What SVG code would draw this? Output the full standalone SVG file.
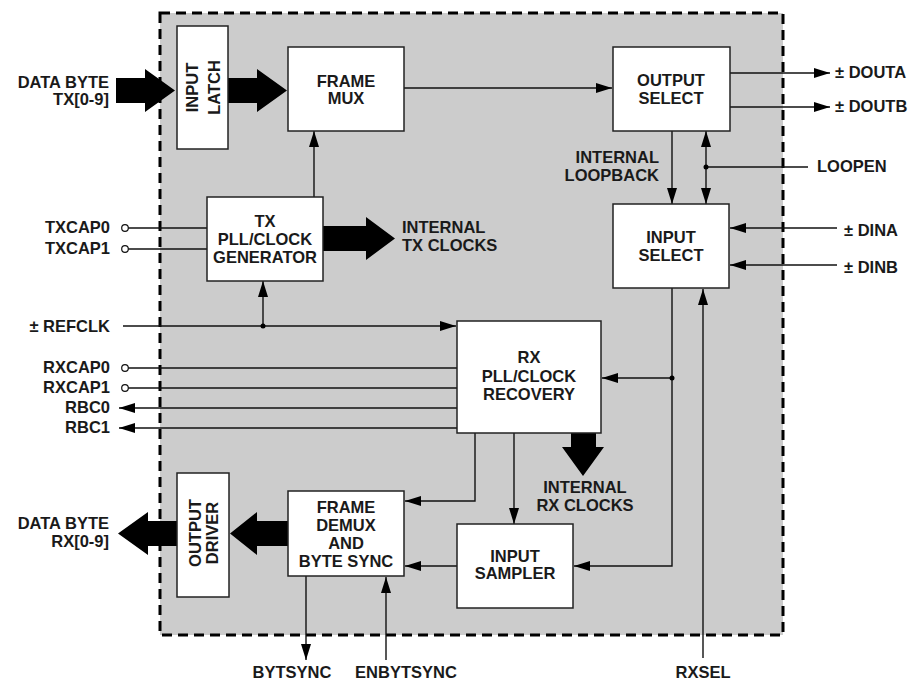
<svg xmlns="http://www.w3.org/2000/svg" width="923" height="683" viewBox="0 0 923 683">
<style>
text{font-family:"Liberation Sans",Arial,sans-serif;font-weight:bold;font-size:16.5px;fill:#1a1a1a}
.c{text-anchor:middle}
.r{text-anchor:end}
.box{fill:#fff;stroke:#222;stroke-width:1.5}
.ln{fill:none;stroke:#111;stroke-width:1.4}
.big{fill:#000}
.pin{fill:#fff;stroke:#111;stroke-width:1.2}
</style>
<defs>
<marker id="ah" markerUnits="userSpaceOnUse" markerWidth="17" markerHeight="11" refX="16" refY="5" orient="auto-start-reverse">
<path d="M0,0 L16,5 L0,10 z" fill="#000"/>
</marker>
</defs>
<rect x="160" y="13" width="623" height="622" fill="#cccccc" stroke="#000" stroke-width="3" stroke-dasharray="10 6"/>

<g id="connectors">
<line class="ln" x1="404" y1="88" x2="612" y2="88" marker-end="url(#ah)"/>
<line class="ln" x1="730" y1="73" x2="830" y2="73" marker-end="url(#ah)"/>
<line class="ln" x1="730" y1="107" x2="830" y2="107" marker-end="url(#ah)"/>
<line class="ln" x1="672" y1="131" x2="672" y2="204" marker-end="url(#ah)"/>
<line class="ln" x1="706" y1="131" x2="706" y2="204" marker-start="url(#ah)" marker-end="url(#ah)"/>
<line class="ln" x1="808" y1="167" x2="706" y2="167"/>
<circle cx="706" cy="167" r="2.5" fill="#000"/>
<line class="ln" x1="837" y1="228" x2="730" y2="228" marker-end="url(#ah)"/>
<line class="ln" x1="837" y1="265" x2="730" y2="265" marker-end="url(#ah)"/>
<line class="ln" x1="314" y1="197" x2="314" y2="131" marker-end="url(#ah)"/>
<line class="ln" x1="128" y1="228" x2="207" y2="228"/>
<line class="ln" x1="128" y1="249" x2="207" y2="249"/>
<line class="ln" x1="123" y1="326" x2="456" y2="326" marker-end="url(#ah)"/>
<line class="ln" x1="263" y1="326" x2="263" y2="281" marker-end="url(#ah)"/>
<circle cx="263" cy="326" r="2.5" fill="#000"/>
<line class="ln" x1="128" y1="368" x2="457" y2="368"/>
<line class="ln" x1="128" y1="388" x2="457" y2="388"/>
<line class="ln" x1="457" y1="408" x2="119" y2="408" marker-end="url(#ah)"/>
<line class="ln" x1="457" y1="428" x2="119" y2="428" marker-end="url(#ah)"/>
<polyline class="ln" points="672,288 672,566 574,566" marker-end="url(#ah)"/>
<line class="ln" x1="672" y1="378" x2="602" y2="378" marker-end="url(#ah)"/>
<circle cx="672" cy="378" r="2.5" fill="#000"/>
<line class="ln" x1="703" y1="658" x2="703" y2="289" marker-end="url(#ah)"/>
<polyline class="ln" points="475,433 475,501 405,501" marker-end="url(#ah)"/>
<line class="ln" x1="514" y1="433" x2="514" y2="524" marker-end="url(#ah)"/>
<line class="ln" x1="457" y1="566" x2="405" y2="566" marker-end="url(#ah)"/>
<line class="ln" x1="306" y1="576" x2="306" y2="660" marker-end="url(#ah)"/>
<line class="ln" x1="386" y1="660" x2="386" y2="577" marker-end="url(#ah)"/>
<circle class="pin" cx="125" cy="228" r="3.3"/>
<circle class="pin" cx="125" cy="249" r="3.3"/>
<circle class="pin" cx="125" cy="368" r="3.3"/>
<circle class="pin" cx="125" cy="388" r="3.3"/>
<polygon class="big" points="116,78 145,78 145,69 175,90.5 145,112 145,103 116,103"/>
<polygon class="big" points="228,78 257,78 257,69 287,90.5 257,112 257,103 228,103"/>
<polygon class="big" points="323,226 366,226 366,217 395,238.5 366,260 366,251 323,251"/>
<polygon class="big" points="571,433 596,433 596,447 604,447 583,476 562,447 571,447"/>
<polygon class="big" points="288,521 257,521 257,512 230,533.5 257,555 257,546 288,546"/>
<polygon class="big" points="177,521 148,521 148,512 118,533.5 148,555 148,546 177,546"/>
</g>

<g id="input-latch">
<rect class="box" x="177" y="26" width="51" height="123"/>
<text class="c" transform="translate(198,87.5) rotate(-90)">INPUT</text>
<text class="c" transform="translate(220,87.5) rotate(-90)">LATCH</text>
</g>
<g id="frame-mux">
<rect class="box" x="288" y="47" width="116" height="84"/>
<text class="c" x="346" y="87">FRAME</text>
<text class="c" x="346" y="104">MUX</text>
</g>
<g id="output-select">
<rect class="box" x="613" y="47" width="117" height="84"/>
<text class="c" x="671" y="86">OUTPUT</text>
<text class="c" x="671" y="104">SELECT</text>
</g>
<g id="input-select">
<rect class="box" x="613" y="204" width="116" height="84"/>
<text class="c" x="671" y="243">INPUT</text>
<text class="c" x="671" y="261">SELECT</text>
</g>
<g id="tx-pll">
<rect class="box" x="207" y="197" width="116" height="84"/>
<text class="c" x="265" y="227">TX</text>
<text class="c" x="265" y="245">PLL/CLOCK</text>
<text class="c" x="265" y="263">GENERATOR</text>
</g>
<g id="rx-pll">
<rect class="box" x="457" y="321" width="144" height="112"/>
<text class="c" x="529" y="363">RX</text>
<text class="c" x="529" y="382">PLL/CLOCK</text>
<text class="c" x="529" y="400">RECOVERY</text>
</g>
<g id="input-sampler">
<rect class="box" x="457" y="524" width="116" height="84"/>
<text class="c" x="515" y="562">INPUT</text>
<text class="c" x="515" y="579">SAMPLER</text>
</g>
<g id="frame-demux">
<rect class="box" x="288" y="491" width="116" height="85"/>
<text class="c" x="346" y="513">FRAME</text>
<text class="c" x="346" y="531">DEMUX</text>
<text class="c" x="346" y="549">AND</text>
<text class="c" x="346" y="567">BYTE SYNC</text>
</g>
<g id="output-driver">
<rect class="box" x="177" y="473" width="52" height="124"/>
<text class="c" transform="translate(201,533) rotate(-90)">OUTPUT</text>
<text class="c" transform="translate(218,533) rotate(-90)">DRIVER</text>
</g>

<g id="labels">
<text class="r" x="109" y="88">DATA BYTE</text>
<text class="r" x="109" y="105">TX[0-9]</text>
<text x="835" y="78">± DOUTA</text>
<text x="835" y="112">± DOUTB</text>
<text class="r" x="659" y="163">INTERNAL</text>
<text class="r" x="659" y="181">LOOPBACK</text>
<text x="817" y="172">LOOPEN</text>
<text x="844" y="236">± DINA</text>
<text x="844" y="273">± DINB</text>
<text class="r" x="110" y="233">TXCAP0</text>
<text class="r" x="110" y="254">TXCAP1</text>
<text x="402" y="233">INTERNAL</text>
<text x="402" y="251">TX CLOCKS</text>
<text class="r" x="110" y="332">± REFCLK</text>
<text class="r" x="110" y="373">RXCAP0</text>
<text class="r" x="110" y="393">RXCAP1</text>
<text class="r" x="110" y="413">RBC0</text>
<text class="r" x="110" y="433">RBC1</text>
<text class="c" x="585" y="493">INTERNAL</text>
<text class="c" x="585" y="511">RX CLOCKS</text>
<text class="r" x="109" y="529">DATA BYTE</text>
<text class="r" x="109" y="547">RX[0-9]</text>
<text class="c" x="292" y="678">BYTSYNC</text>
<text class="c" x="406" y="678">ENBYTSYNC</text>
<text class="c" x="703" y="678">RXSEL</text>
</g>
</svg>
